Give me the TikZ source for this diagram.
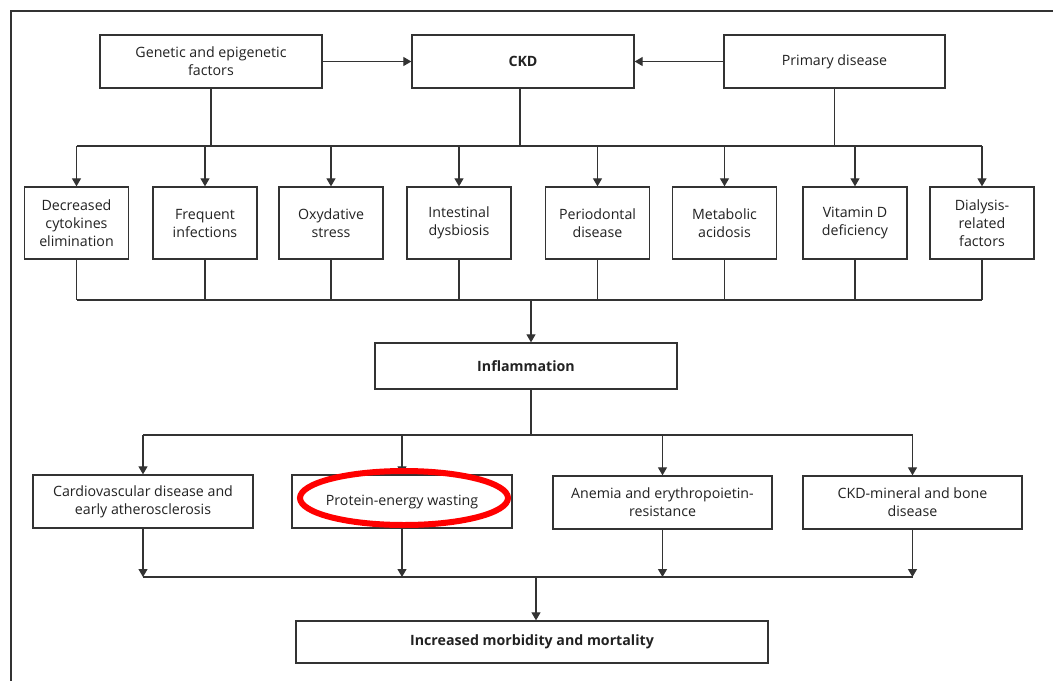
\documentclass[tikz,border=0pt]{standalone}
\usepackage{fontspec}
\setmainfont{Open Sans}
\usetikzlibrary{arrows.meta}
\definecolor{lc}{HTML}{333333}
\definecolor{tc}{HTML}{222222}
\tikzset{
  box/.style={draw=lc, line width=1.3pt, fill=white, align=center, text=tc,
    font=\fontsize{14.2}{18}\selectfont, inner sep=0pt},
  boldbox/.style={box, font=\fontsize{14.2}{18}\selectfont\bfseries},
  wire/.style={draw=lc, line width=1.2pt},
  arr/.style={wire, -{Triangle[length=8pt,width=9pt]}},
  hilite/.style={draw=red, line width=6pt},
}
\begin{document}
\begin{tikzpicture}[x=1pt,y=-1pt]
\useasboundingbox (0,0) rectangle (1053,681);
\draw[draw=lc, line width=1.5pt] (1053,11) -- (11,11) -- (11,681);

% top row
\node[box, minimum width=222pt, minimum height=53pt] (gen) at (211,61.5) {Genetic and epigenetic\\factors};
\node[boldbox, minimum width=222pt, minimum height=53pt] (ckd) at (523,61.5) {CKD};
\node[box, minimum width=221pt, minimum height=53pt] (prim) at (834.5,61.5) {Primary disease};
\draw[arr] (gen.east) -- (ckd.west);
\draw[arr] (prim.west) -- (ckd.east);

% middle row
\foreach \n/\x/\t in {m1/76.5/{Decreased\\cytokines\\elimination},
                      m2/205/{Frequent\\infections},
                      m3/331/{Oxydative\\stress},
                      m4/459/{Intestinal\\dysbiosis},
                      m5/597.5/{Periodontal\\disease},
                      m6/724.5/{Metabolic\\acidosis},
                      m7/855/{Vitamin D\\deficiency},
                      m8/982/{Dialysis-\\related\\factors}}
  \node[box, minimum width=104pt, minimum height=72pt] (\n) at (\x,223) {\t};

\coordinate (busA) at (0,146);
\coordinate (busB) at (0,300);
\coordinate (c0) at (520,0);
\draw[wire] (m1.north |- busA) -- (m8.north |- busA);
\draw[wire] (gen.south) -- (gen.south |- busA);
\draw[wire] (ckd.south -| c0) -- (c0 |- busA);
\draw[wire] (prim.south) -- (prim.south |- busA);
\foreach \n in {m1,m2,m3,m4,m5,m6,m7,m8}{
  \draw[arr] (\n.north |- busA) -- (\n.north);
  \draw[wire] (\n.south) -- (\n.south |- busB);
}
\draw[wire] (m1.south |- busB) -- (m8.south |- busB);

% inflammation
\node[boldbox, minimum width=302pt, minimum height=46pt] (inf) at (526,366) {Inflammation};
\coordinate (c1) at (531,300);
\draw[arr] (c1) -- (c1 |- inf.north);

% bottom effects row
\node[box, minimum width=220pt, minimum height=53pt] (b1) at (143,501.5) {Cardiovascular disease and\\early atherosclerosis};
\node[box, minimum width=220pt, minimum height=53pt] (b2) at (402,501.5) {Protein-energy wasting};
\node[box, minimum width=219pt, minimum height=53pt] (b3) at (662.5,502.5) {Anemia and erythropoietin-\\resistance};
\node[box, minimum width=219pt, minimum height=53pt] (b4) at (912.5,502.5) {CKD-mineral and bone\\disease};

\coordinate (busC) at (0,435);
\coordinate (busD) at (0,577);
\draw[wire] (inf.south -| c1) -- (c1 |- busC);
\draw[wire] (b1.north |- busC) -- (b4.north |- busC);
\foreach \n in {b1,b2,b3,b4}{
  \draw[arr] (\n.north |- busC) -- (\n.north);
  \draw[arr] (\n.south) -- (\n.south |- busD);
}
\draw[wire] (b1.south |- busD) -- (b4.south |- busD);

% outcome
\node[boldbox, minimum width=472pt, minimum height=42pt] (out) at (532,642) {Increased morbidity and mortality};
\coordinate (c2) at (536,577);
\draw[arr] (c2) -- (c2 |- out.north);

% highlight
\draw[hilite] (404,498) ellipse [x radius=104, y radius=27];
\end{tikzpicture}
\end{document}
